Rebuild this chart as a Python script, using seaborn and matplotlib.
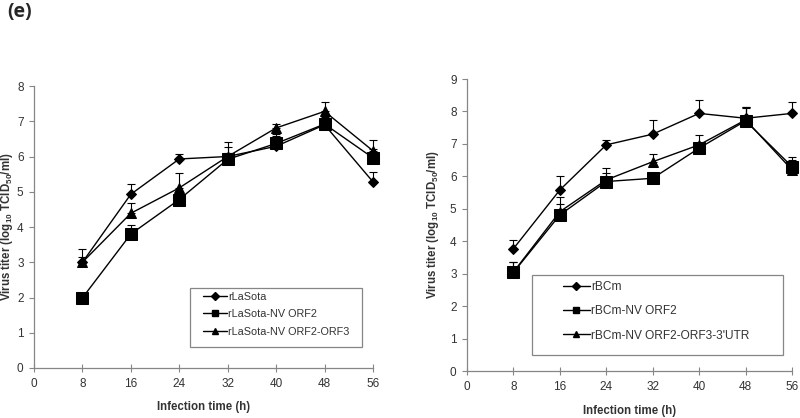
import numpy as np
import pandas as pd
import matplotlib
matplotlib.use("Agg")
import matplotlib.pyplot as plt
from matplotlib.patches import Rectangle
import seaborn as sns

hours = [8, 16, 24, 32, 40, 48, 56]

# Left panel
left_names = ["rLaSota", "rLaSota-NV ORF2", "rLaSota-NV ORF2-ORF3"]
left_vals = {
    "rLaSota": [3.0, 4.93, 5.93, 6.0, 6.29, 6.9, 5.28],
    "rLaSota-NV ORF2": [1.99, 3.8, 4.78, 5.92, 6.37, 6.92, 5.96],
    "rLaSota-NV ORF2-ORF3": [3.0, 4.39, 5.11, 6.0, 6.81, 7.28, 6.16],
}
left_err = {
    "rLaSota": [0.16, 0.3, 0.14, 0.28, 0.3, 0.2, 0.28],
    "rLaSota-NV ORF2": [0.13, 0.27, 0.08, 0.18, 0.28, 0.2, 0.25],
    "rLaSota-NV ORF2-ORF3": [0.37, 0.28, 0.41, 0.42, 0.11, 0.27, 0.3],
}

# Right panel
right_names = ["rBCm", "rBCm-NV ORF2", "rBCm-NV ORF2-ORF3-3'UTR"]
right_vals = {
    "rBCm": [3.77, 5.58, 6.97, 7.3, 7.94, 7.79, 7.94],
    "rBCm-NV ORF2": [3.04, 4.81, 5.84, 5.94, 6.87, 7.71, 6.3],
    "rBCm-NV ORF2-ORF3-3'UTR": [3.05, 4.91, 5.89, 6.45, 6.97, 7.74, 6.2],
}
right_err = {
    "rBCm": [0.27, 0.43, 0.15, 0.44, 0.42, 0.34, 0.36],
    "rBCm-NV ORF2": [0.33, 0.34, 0.25, 0.15, 0.12, 0.44, 0.31],
    "rBCm-NV ORF2-ORF3-3'UTR": [0.3, 0.46, 0.36, 0.24, 0.31, 0.36, 0.3],
}

marker_list = ["D", "s", "^"]
marker_sizes = [5, 8, 7]
legend_marker_sizes = [3.8, 5.0, 5.0]

sns.set_style("ticks")
plt.rcParams["font.family"] = ["Liberation Sans", "DejaVu Sans"]
plt.rcParams["mathtext.fontset"] = "custom"
plt.rcParams["mathtext.rm"] = "Liberation Sans"
plt.rcParams["mathtext.bf"] = "Liberation Sans:bold"
plt.rcParams["mathtext.default"] = "bf"

W, H = 800, 418
fig = plt.figure(figsize=(8, 4.18), dpi=100)
axL = fig.add_axes([34 / W, (H - 368) / H, 339 / W, 282 / H])
axR = fig.add_axes([467 / W, (H - 371) / H, 325 / W, 292 / H])

AX_GRAY = "#868686"
TXT = "#333333"


def draw(ax, names, vals, errs, ymax, ylab_x):
    rows = []
    for n in names:
        for h, v in zip(hours, vals[n]):
            rows.append({"time": h, "titer": v, "series": n})
    df = pd.DataFrame(rows)
    markers = {n: m for n, m in zip(names, marker_list)}
    sns.lineplot(data=df, x="time", y="titer", hue="series", style="series",
                 hue_order=names, style_order=names,
                 palette={n: "black" for n in names}, markers=markers,
                 dashes=False, ax=ax, linewidth=1.0, legend=False,
                 markeredgecolor="black")
    for line, ms in zip(ax.get_lines(), marker_sizes):
        line.set_markersize(ms)
        line.set_clip_on(False)
    for n in names:
        ax.errorbar(hours, vals[n], yerr=[np.zeros(len(hours)), errs[n]],
                    fmt="none", ecolor="black", elinewidth=0.8, capsize=3,
                    capthick=0.8, clip_on=False)
    ax.set_xlim(0, 56)
    ax.set_ylim(0, ymax)
    ax.set_xticks(range(0, 57, 8))
    ax.set_yticks(range(0, ymax + 1))
    for s in ["top", "right"]:
        ax.spines[s].set_visible(False)
    for s in ["left", "bottom"]:
        ax.spines[s].set_color(AX_GRAY)
        ax.spines[s].set_linewidth(0.9)
    ax.tick_params(axis="both", labelsize=8.5, color=AX_GRAY,
                   labelcolor=TXT, width=0.8)
    ax.tick_params(axis="x", direction="inout", length=6, pad=4)
    ax.tick_params(axis="y", direction="out", length=3.5, pad=4)
    ax.set_xlabel("Infection time (h)", fontsize=8.3, fontweight="bold",
                  color=TXT)
    ax.set_ylabel(r"Virus titer (log$_{10}$ TCID$_{50}$/ml)", fontsize=8.3,
                  fontweight="bold", color=TXT)
    ax.xaxis.set_label_coords(0.5, -0.138)
    ax.xaxis.label.set_va("center")
    ax.yaxis.set_label_coords(ylab_x, 0.5)
    ax.yaxis.label.set_va("center")
    handles = []
    for n, m, ms in zip(names, marker_list, legend_marker_sizes):
        h, = ax.plot([], [], color="black", marker=m, markersize=ms,
                     linewidth=1.0, label=n)
        handles.append(h)
    return handles


hL = draw(axL, left_names, left_vals, left_err, 8, -0.080)
hR = draw(axR, right_names, right_vals, right_err, 9, -0.105)


def legend_box(x0, y0, x1, y1):
    fig.patches.append(Rectangle((x0 / W, 1 - y1 / H), (x1 - x0) / W,
                                 (y1 - y0) / H, transform=fig.transFigure,
                                 facecolor="white", edgecolor=AX_GRAY,
                                 linewidth=0.9, zorder=5))


legend_box(190, 288, 362, 347)
legend_box(532, 275, 783, 355)

legL = fig.legend(handles=hL, loc="upper left",
                  bbox_to_anchor=(203 / W, 1 - 291.5 / H),
                  fontsize=7.8, frameon=False, handlelength=2.2,
                  handletextpad=0.1, labelspacing=0.7, borderaxespad=0,
                  borderpad=0)
legR = fig.legend(handles=hR, loc="upper left",
                  bbox_to_anchor=(563 / W, 1 - 281 / H),
                  fontsize=8.6, frameon=False, handlelength=2.25,
                  handletextpad=0.1, labelspacing=1.03, borderaxespad=0,
                  borderpad=0)
for lg in (legL, legR):
    lg.set_zorder(6)
    for t in lg.get_texts():
        t.set_color(TXT)

fig.text(7 / W, 1 - 12.5 / H, "(e)", fontsize=14, fontweight="bold",
         family=["Open Sans", "DejaVu Sans"], va="center", ha="left")

fig.savefig("out.png", dpi=100, facecolor="white")
